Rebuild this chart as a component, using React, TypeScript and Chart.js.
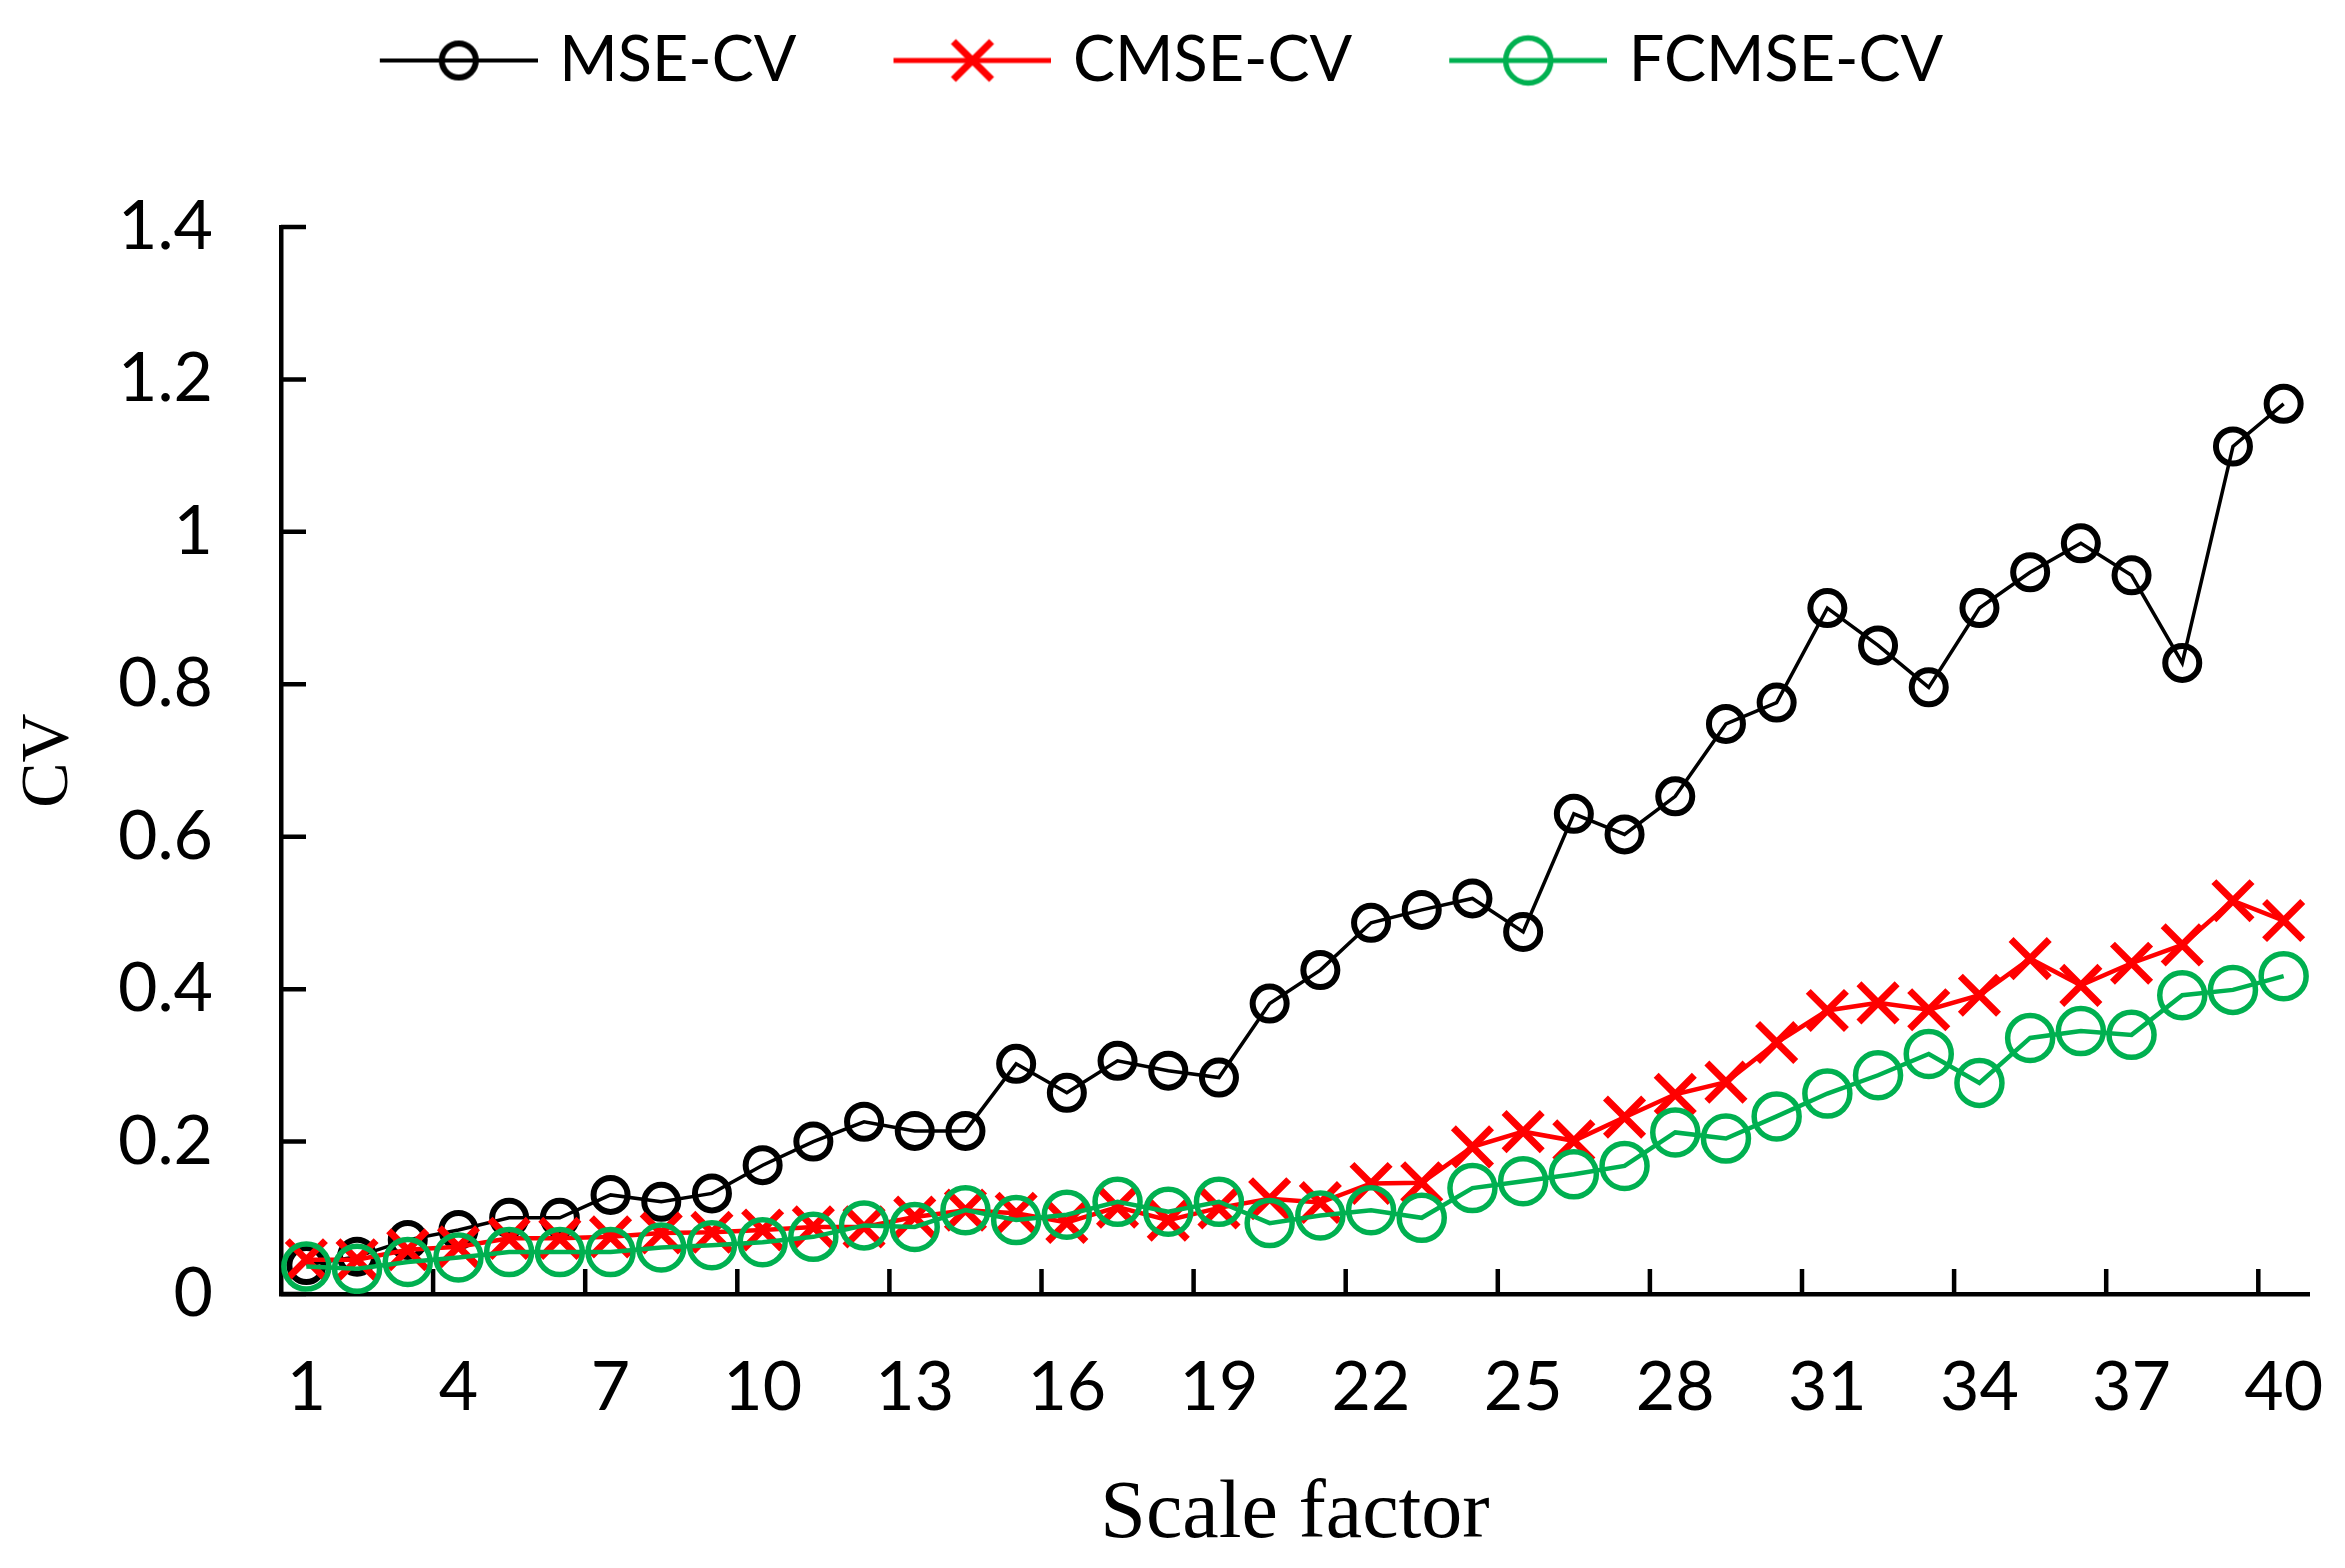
import { useEffect, useRef } from "react"
import { Chart, registerables, type ChartConfiguration, type Plugin } from "chart.js"
import { drawPoint } from "chart.js/helpers"

Chart.register(...registerables)

// scale factors 1..40
const scaleFactors = [
  "1", "2", "3", "4", "5", "6", "7", "8", "9", "10",
  "11", "12", "13", "14", "15", "16", "17", "18", "19", "20",
  "21", "22", "23", "24", "25", "26", "27", "28", "29", "30",
  "31", "32", "33", "34", "35", "36", "37", "38", "39", "40",
]

const mseCv = [
  0.038, 0.049, 0.071, 0.084, 0.1, 0.1, 0.13, 0.121, 0.132, 0.169,
  0.2, 0.226, 0.214, 0.214, 0.302, 0.264, 0.306, 0.293, 0.284, 0.381,
  0.425, 0.487, 0.504, 0.519, 0.475, 0.63, 0.603, 0.653, 0.748, 0.776,
  0.9, 0.851, 0.796, 0.9, 0.947, 0.985, 0.943, 0.828, 1.112, 1.168,
]

const cmseCv = [
  0.045, 0.045, 0.058, 0.062, 0.073, 0.073, 0.075, 0.08, 0.081, 0.084,
  0.088, 0.088, 0.101, 0.11, 0.106, 0.094, 0.114, 0.097, 0.113, 0.125,
  0.12, 0.145, 0.146, 0.193, 0.213, 0.201, 0.232, 0.262, 0.278, 0.33,
  0.372, 0.382, 0.373, 0.392, 0.44, 0.405, 0.434, 0.458, 0.516, 0.49,
]

const fcmseCv = [
  0.036, 0.033, 0.042, 0.048, 0.055, 0.055, 0.055, 0.061, 0.064, 0.068,
  0.075, 0.09, 0.088, 0.11, 0.097, 0.104, 0.121, 0.108, 0.121, 0.093,
  0.103, 0.11, 0.1, 0.139, 0.148, 0.157, 0.168, 0.212, 0.204, 0.233,
  0.263, 0.287, 0.315, 0.277, 0.336, 0.345, 0.34, 0.392, 0.399, 0.417,
]

const yTickLabels = ["0", "0.2", "0.4", "0.6", "0.8", "1", "1.2", "1.4"]

const AXIS_WIDTH = 4.5
const TICK_LEN = 25
const TICK_FONT = { family: "Lato", size: 68 }
const LEGEND_BOX = 162
const LEGEND_PAD = 83

type SeriesStyle = {
  label: string
  data: number[]
  color: string
  pointStyle: "circle" | "crossRot"
  radius: number
  pointBorder: number
  lineWidth: number
  order: number
}

const series: SeriesStyle[] = [
  { label: "MSE-CV", data: mseCv, color: "#000000", pointStyle: "circle", radius: 17, pointBorder: 6, lineWidth: 3.5, order: 3 },
  { label: "CMSE-CV", data: cmseCv, color: "#ff0000", pointStyle: "crossRot", radius: 27, pointBorder: 7, lineWidth: 4.5, order: 2 },
  { label: "FCMSE-CV", data: fcmseCv, color: "#00b050", pointStyle: "circle", radius: 22.5, pointBorder: 5.5, lineWidth: 4.5, order: 1 },
]

// line + marker icon for the legend, the line sits in the right part of the box
function legendIcon(s: SeriesStyle) {
  const c = document.createElement("canvas")
  c.width = LEGEND_BOX + 20
  c.height = 70
  const g = c.getContext("2d")!
  const cy = c.height / 2
  g.strokeStyle = s.color
  g.fillStyle = "rgba(0,0,0,0)"
  g.lineWidth = s.lineWidth + 0.5
  g.beginPath()
  g.moveTo(c.width - 158, cy)
  g.lineTo(c.width, cy)
  g.stroke()
  g.lineWidth = s.pointBorder
  drawPoint(g, { pointStyle: s.pointStyle, radius: s.radius, borderWidth: s.pointBorder, rotation: 0 }, c.width - 79, cy)
  return c
}

// Excel style tick marks pointing into the plot
const innerTicks: Plugin<"line"> = {
  id: "innerTicks",
  beforeDatasetsDraw(chart) {
    const { ctx } = chart
    const x = chart.scales.x
    const y = chart.scales.y
    ctx.save()
    ctx.strokeStyle = "#000"
    ctx.lineWidth = AXIS_WIDTH
    ctx.beginPath()
    y.ticks.forEach((t) => {
      const py = y.getPixelForValue(t.value)
      ctx.moveTo(x.left, py)
      ctx.lineTo(x.left + TICK_LEN, py)
    })
    for (let i = 3; i < scaleFactors.length; i += 3) {
      const px = x.getPixelForValue(i - 0.5)
      ctx.moveTo(px, y.bottom)
      ctx.lineTo(px, y.bottom - TICK_LEN)
    }
    ctx.stroke()
    ctx.restore()
  },
}

export default function App() {
  const chartRef = useRef<HTMLCanvasElement>(null)

  useEffect(() => {
    if (!chartRef.current) return
    document.body.style.margin = "0"
    Chart.defaults.color = "#000"

    const icons = series.map(legendIcon)

    const config: ChartConfiguration<"line"> = {
      type: "line",
      data: {
        labels: scaleFactors,
        datasets: series.map((s) => ({
          label: s.label,
          data: s.data,
          borderColor: s.color,
          borderWidth: s.lineWidth,
          pointStyle: s.pointStyle,
          pointRadius: s.radius,
          pointBorderWidth: s.pointBorder,
          pointBorderColor: s.color,
          pointBackgroundColor: "rgba(0,0,0,0)",
          tension: 0,
          fill: false,
          order: s.order,
        })),
      },
      options: {
        animation: false,
        responsive: true,
        maintainAspectRatio: false,
        devicePixelRatio: 1,
        layout: { padding: { left: 0, right: 36, top: -54, bottom: 0 } },
        plugins: {
          tooltip: { enabled: false },
          legend: {
            position: "top",
            align: "center",
            labels: {
              usePointStyle: true,
              pointStyleWidth: LEGEND_BOX,
              padding: LEGEND_PAD,
              color: "#000",
              font: { family: "Lato", size: 63 },
              generateLabels: () =>
                series.map((s, i) => ({
                  text: s.label,
                  pointStyle: icons[i],
                  fillStyle: "rgba(0,0,0,0)",
                  strokeStyle: s.color,
                  lineWidth: 0,
                  hidden: false,
                  datasetIndex: i,
                  fontColor: "#000",
                })),
            },
          },
          // blank spacer between legend and plot
          title: {
            display: true,
            text: "",
            weight: 500,
            font: { size: 4, lineHeight: 1 },
            padding: { top: 0, bottom: 121 },
          } as any,
        },
        scales: {
          x: {
            type: "category",
            offset: true,
            grid: { display: false },
            border: { display: true, color: "#000", width: AXIS_WIDTH },
            ticks: {
              autoSkip: false,
              maxRotation: 0,
              minRotation: 0,
              padding: 45,
              font: TICK_FONT,
              color: "#000",
              callback: (_v, i) => (i % 3 === 0 ? scaleFactors[i] : ""),
            },
            title: {
              display: true,
              text: "Scale factor",
              color: "#000",
              font: { family: "Liberation Serif", size: 82 },
              padding: { top: 0, bottom: 3 },
            },
            afterFit: (s) => {
              s.height = 274
              s.paddingLeft = 0
              s.paddingRight = 0
            },
          },
          y: {
            min: 0,
            max: 1.4,
            grid: { display: false },
            border: { display: true, color: "#000", width: AXIS_WIDTH },
            ticks: {
              stepSize: 0.2,
              padding: 60,
              font: TICK_FONT,
              color: "#000",
              callback: (_v, i) => yTickLabels[i],
            },
            title: {
              display: true,
              text: "CV",
              color: "#000",
              font: { family: "Liberation Serif", size: 68 },
              padding: { top: 8, bottom: 0 },
            },
            afterFit: (s) => {
              s.width = 281
            },
          },
        },
      },
      plugins: [innerTicks],
    }

    const chart = new Chart(chartRef.current, config)
    return () => chart.destroy()
  }, [])

  return (
    <div style={{ position: "fixed", left: 0, top: 0, width: 2345, height: 1568, background: "#fff" }}>
      <canvas ref={chartRef} />
    </div>
  )
}
